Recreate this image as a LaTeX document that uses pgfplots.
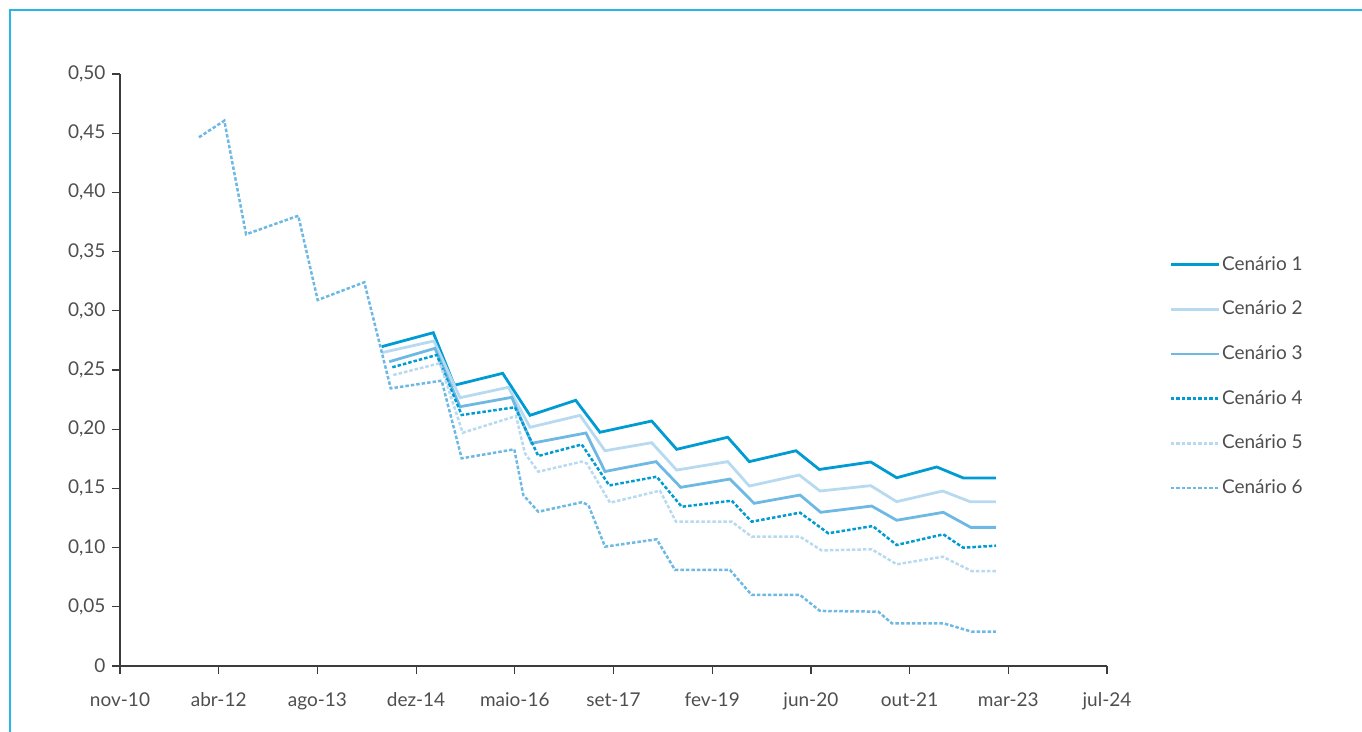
\documentclass[border=0pt]{standalone}
\usepackage{fontspec}
\setmainfont{Lato}
\usepackage{pgfplots}
\pgfplotsset{compat=1.18}
\definecolor{cdark}{RGB}{0,155,210}
\definecolor{clight}{RGB}{184,218,240}
\definecolor{cmid}{RGB}{110,185,228}
\definecolor{axisgray}{RGB}{60,60,60}
\definecolor{textgray}{RGB}{78,78,78}
\definecolor{framecyan}{RGB}{41,181,232}
\begin{document}
\fontsize{19bp}{23bp}\selectfont
\begin{tikzpicture}
\begin{axis}[
  at={(120bp,66bp)}, anchor=south west,
  scale only axis, width=987bp, height=592bp,
  xmin=0, xmax=10, ymin=0, ymax=0.5,
  axis lines=left,
  axis line style={color=axisgray, line width=1.2bp, -},
  xtick={0,...,10},
  xticklabels={nov-10,abr-12,ago-13,dez-14,maio-16,set-17,fev-19,jun-20,out-21,mar-23,jul-24},
  ytick={0,0.05,0.10,0.15,0.20,0.25,0.30,0.35,0.40,0.45,0.50},
  yticklabels={0,{0,05},{0,10},{0,15},{0,20},{0,25},{0,30},{0,35},{0,40},{0,45},{0,50}},
  tick style={color=axisgray, line width=1.2bp},
  tick align=outside, major tick length=8bp,
  ticklabel style={font=\fontsize{19bp}{23bp}\selectfont, text=textgray},
  xticklabel style={yshift=-12bp},
  clip=false,
  legend cell align=left,
  legend style={at={(1.0628,0.696)}, anchor=north west, draw=none, fill=none,
    row sep=24bp, inner sep=0pt, nodes={inner sep=2bp},
    font=\fontsize{19bp}{23bp}\selectfont, text=textgray},
  legend image code/.code={\draw[#1] (0bp,0bp) -- (48bp,0bp);},
]
% Cenario 1
\addplot[cdark, line width=2.8bp] coordinates {
(2.651,0.2697) (3.174,0.2815) (3.387,0.2371) (3.877,0.2472) (4.154,0.2117)
(4.617,0.2244) (4.863,0.1974) (5.387,0.2069) (5.640,0.1830) (6.157,0.1932)
(6.376,0.1726) (6.849,0.1818) (7.085,0.1660) (7.606,0.1723) (7.869,0.1590)
(8.275,0.1681) (8.544,0.1588) (8.875,0.1588)};
\addlegendentry{Cenário 1}
% Cenario 2
\addplot[clight, line width=2.8bp] coordinates {
(2.651,0.2646) (3.181,0.2745) (3.445,0.2266) (3.934,0.2354) (4.154,0.2016)
(4.661,0.2117) (4.914,0.1818) (5.387,0.1886) (5.640,0.1655) (6.157,0.1726)
(6.376,0.1520) (6.882,0.1613) (7.092,0.1478) (7.606,0.1523) (7.869,0.1388)
(8.335,0.1478) (8.612,0.1388) (8.875,0.1388)};
\addlegendentry{Cenário 2}
% Cenario 3
\addplot[cmid, line width=2.8bp] coordinates {
(2.728,0.2570) (3.191,0.2683) (3.445,0.2190) (3.969,0.2269) (4.171,0.1881)
(4.721,0.1968) (4.914,0.1643) (5.431,0.1726) (5.681,0.1509) (6.180,0.1579)
(6.424,0.1374) (6.890,0.1444) (7.099,0.1298) (7.616,0.1351) (7.869,0.1231)
(8.341,0.1298) (8.619,0.1171) (8.875,0.1171)};
\addlegendentry{Cenário 3}
% Cenario 4
\addplot[cdark, line width=2.5bp, dash pattern=on 3.5bp off 2bp] coordinates {
(2.759,0.2523) (3.209,0.2627) (3.462,0.2120) (4.002,0.2185) (4.238,0.1774)
(4.678,0.1871) (4.957,0.1525) (5.438,0.1599) (5.691,0.1345) (6.198,0.1396)
(6.400,0.1219) (6.890,0.1295) (7.176,0.1121) (7.626,0.1182) (7.869,0.1022)
(8.341,0.1112) (8.544,0.0999) (8.875,0.1016)};
\addlegendentry{Cenário 4}
% Cenario 5
\addplot[clight, line width=2.5bp, dash pattern=on 3.5bp off 2bp] coordinates {
(2.769,0.2458) (3.242,0.2557) (3.472,0.1970) (4.012,0.2111) (4.103,0.1796)
(4.238,0.1641) (4.678,0.1726) (4.728,0.1712) (4.965,0.1379) (5.471,0.1481)
(5.633,0.1219) (6.198,0.1219) (6.400,0.1092) (6.890,0.1092) (7.109,0.0976)
(7.616,0.0986) (7.869,0.0859) (8.335,0.0923) (8.629,0.0802) (8.875,0.0802)};
\addlegendentry{Cenário 5}
% Cenario 6 (com historico)
\addplot[cmid, line width=2.5bp, dash pattern=on 3.5bp off 2bp] coordinates {
(0.800,0.4465) (1.057,0.4606) (1.277,0.3646) (1.806,0.3803) (2.003,0.3091)
(2.475,0.3241) (2.743,0.2345) (3.259,0.2410) (3.462,0.1754) (3.995,0.1830)
(4.086,0.1444) (4.238,0.1303) (4.678,0.1383) (4.745,0.1360) (4.914,0.1008)
(5.438,0.1070) (5.623,0.0811) (6.180,0.0811) (6.400,0.0600) (6.890,0.0600)
(7.092,0.0465) (7.683,0.0459) (7.819,0.0361) (8.341,0.0361) (8.629,0.0290)
(8.875,0.0290)};
\addlegendentry{Cenário 6}
\end{axis}
\draw[framecyan, line width=2bp] (10bp,-20bp) -- (10bp,721.5bp) -- (1400bp,721.5bp);
\pgfresetboundingbox
\useasboundingbox (0,0) rectangle (1362bp,732bp);
\end{tikzpicture}
\end{document}
